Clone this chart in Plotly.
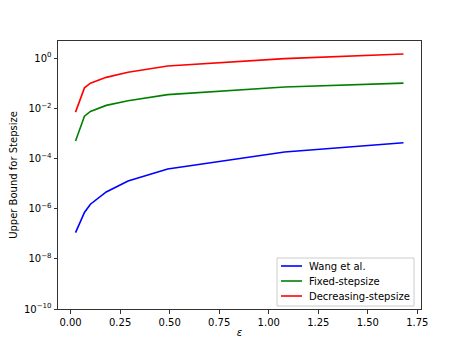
import plotly.graph_objects as go

# epsilon grid shared by all three curves
eps = [0.025, 0.07, 0.1, 0.18, 0.29, 0.49, 1.08, 1.68]

wang = [1.1e-7, 7e-7, 1.5e-6, 4.6e-6, 1.25e-5, 3.8e-5, 1.8e-4, 4.2e-4]
fixed = [5e-4, 4.8e-3, 7.5e-3, 0.013, 0.02, 0.035, 0.07, 0.1]
decreasing = [0.007, 0.065, 0.1, 0.17, 0.27, 0.48, 0.95, 1.45]

series = [
    ("Wang et al.", wang, "#0000ff"),
    ("Fixed-stepsize", fixed, "#008000"),
    ("Decreasing-stepsize", decreasing, "#ff0000"),
]

x_ticks = [0.0, 0.25, 0.5, 0.75, 1.0, 1.25, 1.5, 1.75]
y_exps = [0, -2, -4, -6, -8, -10]

# plot area in screenshot pixels (matplotlib-like frame)
L, R, T, B = 58, 421, 41, 309
# the page body adds an 8px margin around the figure
OFF = 8


def px_x(p):
    return (p - L) / (R - L)


def px_y(p):
    return (B - p) / (B - T)


fig = go.Figure()
for name, vals, color in series:
    fig.add_trace(
        go.Scatter(
            x=eps,
            y=vals,
            mode="lines",
            name=name,
            line={"color": color, "width": 1.6},
            showlegend=False,
        )
    )

# hand-drawn compact legend (matplotlib style)
fig.add_shape(
    type="rect", xref="paper", yref="paper",
    x0=px_x(277), x1=px_x(414), y0=px_y(306), y1=px_y(258),
    line={"color": "#cccccc", "width": 1}, fillcolor="white", layer="above",
)
for i, (name, _, color) in enumerate(series):
    cy = 266 + i * 15
    fig.add_shape(
        type="line", xref="paper", yref="paper",
        x0=px_x(281), x1=px_x(302), y0=px_y(cy), y1=px_y(cy),
        line={"color": color, "width": 1.6}, layer="above",
    )
    fig.add_annotation(
        xref="paper", yref="paper", x=px_x(307), y=px_y(cy),
        xanchor="left", yanchor="middle", text=name, showarrow=False,
        font={"size": 10, "color": "black"},
    )

axis_common = {
    "showline": True,
    "linecolor": "#333333",
    "linewidth": 1,
    "mirror": True,
    "ticks": "outside",
    "ticklen": 3.5,
    "tickwidth": 0.8,
    "tickcolor": "#333333",
    "showgrid": False,
    "zeroline": False,
    "automargin": False,
    "tickfont": {"size": 10, "color": "black"},
}

fig.update_layout(
    width=467,
    height=350,
    margin={"l": L - OFF, "r": 467 - R + OFF, "t": T - OFF, "b": 350 - B + OFF},
    paper_bgcolor="white",
    plot_bgcolor="white",
    font={"family": "DejaVu Sans", "size": 10, "color": "black"},
    xaxis={
        **axis_common,
        "range": [-0.0635, 1.7685],
        "tickvals": x_ticks,
        "ticktext": [f"{v:.2f}" for v in x_ticks],
        "title": {"text": "<i>ε</i>", "font": {"size": 10}, "standoff": 2},
    },
    yaxis={
        **axis_common,
        "type": "log",
        "range": [-10, 0.68],
        "tickvals": [10.0**e for e in y_exps],
        "ticktext": [f"10<sup>{e if e >= 0 else '−' + str(-e)}</sup>" for e in y_exps],
        "title": {"text": "Upper Bound for Stepsize", "font": {"size": 10}, "standoff": 5},
    },
    showlegend=False,
)

fig.write_html("out.html")
